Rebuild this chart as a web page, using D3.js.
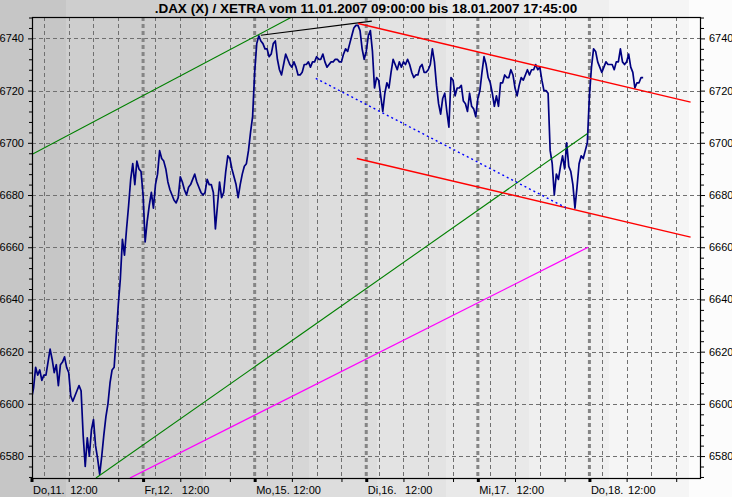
<!DOCTYPE html>
<html>
<head>
<meta charset="utf-8">
<script src="https://cdn.jsdelivr.net/npm/d3@7"></script>
<style>
    body { margin: 0; background: #fff; }
    svg { display: block; font-family: "Liberation Sans", Arial, sans-serif; }
</style>
</head>
<body>
<svg width="732" height="497"></svg>
<script>
const title = ".DAX (X) / XETRA vom 11.01.2007 09:00:00 bis 18.01.2007 17:45:00";
const dayLabels = ["Do,11.", "Fr,12.", "Mo,15.", "Di,16.", "Mi,17.", "Do,18."];
const noonLabel = "12:00";
const yTicks = [6580, 6600, 6620, 6640, 6660, 6680, 6700, 6720, 6740];

// DAX points every 10 minutes from 09:00, one array per trading day
const do11 = [6602, 6606, 6614, 6611, 6613, 6609, 6611, 6611, 6616, 6621,
    6617, 6612, 6615, 6607, 6615, 6616, 6618, 6614, 6612, 6603,
    6601, 6603, 6605, 6607, 6605, 6588, 6576, 6587, 6580, 6590,
    6594, 6584, 6579, 6573, 6580, 6588, 6595, 6600, 6608, 6613,
    6614, 6626, 6638, 6648, 6663, 6657, 6667, 6676, 6686, 6692,
    6684, 6693, 6690, 6689];
const fr12 = [6680, 6662, 6670, 6676, 6681, 6675, 6684, 6688, 6697, 6694,
    6693, 6690, 6685, 6682, 6680, 6678, 6677, 6679, 6687, 6685,
    6682, 6680, 6683, 6684, 6686, 6688, 6685, 6683, 6681, 6680,
    6681, 6686, 6684, 6684, 6681, 6667, 6676, 6685, 6679, 6681,
    6689, 6695, 6694, 6690, 6687, 6684, 6679, 6684, 6688, 6691,
    6692, 6697, 6704, 6710];
const mo15 = [6727, 6738, 6741, 6739, 6738, 6736, 6736, 6733, 6734, 6738,
    6739, 6732, 6728, 6726, 6730, 6734, 6732, 6730, 6729, 6731,
    6729, 6726, 6726, 6727, 6730, 6730, 6731, 6729, 6731, 6731,
    6733, 6732, 6732, 6734, 6731, 6729, 6730, 6731, 6731, 6732,
    6732, 6731, 6731, 6734, 6736, 6735, 6738, 6741, 6744, 6745,
    6745, 6743, 6736, 6732];
const di16 = [6735, 6741, 6743, 6735, 6721, 6725, 6724, 6718, 6712, 6719,
    6723, 6721, 6727, 6732, 6730, 6728, 6731, 6729, 6731, 6730,
    6732, 6730, 6727, 6725, 6726, 6726, 6729, 6730, 6727, 6727,
    6728, 6730, 6736, 6731, 6722, 6715, 6711, 6717, 6719, 6712,
    6706, 6725, 6724, 6718, 6721, 6721, 6722, 6716, 6715, 6712,
    6719, 6714, 6713, 6710];
const mi17 = [6717, 6720, 6727, 6733, 6730, 6725, 6723, 6719, 6714, 6718,
    6714, 6723, 6723, 6726, 6725, 6725, 6728, 6726, 6721, 6718,
    6722, 6725, 6724, 6726, 6728, 6726, 6728, 6728, 6730, 6728,
    6729, 6724, 6720, 6720, 6719, 6697, 6692, 6680, 6688, 6686,
    6691, 6695, 6690, 6700, 6691, 6689, 6684, 6675, 6683, 6692,
    6695, 6694, 6697, 6700];
const do18 = [6718, 6729, 6736, 6735, 6731, 6729, 6727, 6729, 6731, 6730,
    6730, 6730, 6728, 6731, 6731, 6736, 6731, 6730, 6731, 6734,
    6729, 6727, 6721, 6723, 6723, 6725, 6725];

// drawn trend lines: [trading hours since Do 09:00, index value]
const greenUpper = [[0, 6695.5], [21.0, 6748.2]];
const greenLower = [[5.2, 6571.6], [44.85, 6703.6]];
const magentaLine = [[7.94, 6571.6], [44.9, 6660.0]];
const blackLine = [[18.5, 6741.2], [27.45, 6746.6]];
const redUpper = [[26.34, 6745.7], [53.16, 6715.6]];
const redLower = [[26.24, 6694.0], [53.16, 6663.9]];
const blueDotted = [[22.93, 6724.7], [43.08, 6675.2]];

const width = 732;
const height = 497;
const plotL = 32, plotR = 700, plotT = 17, plotB = 478;
const hoursPerDay = 9;

// background shading steps across the whole picture
const bandEdges = [0, 66, 203, 309, 377, 446, 529, 609, 689, 732];
const bandColors = ["#c6c6c6", "#cecece", "#d6d6d6", "#dddddd", "#e3e3e3",
    "#e9e9e9", "#efefef", "#f5f5f5", "#fcfcfc"];

const svg = d3.select("svg").attr("viewBox", [0, 0, width, height]);

svg.append("g")
    .selectAll("rect")
    .data(bandColors)
    .join("rect")
    .attr("x", (d, i) => bandEdges[i])
    .attr("y", 0)
    .attr("width", (d, i) => bandEdges[i + 1] - bandEdges[i])
    .attr("height", height)
    .attr("fill", d => d);

const x = d3.scaleLinear()
    .domain([0, dayLabels.length * hoursPerDay])
    .range([31.5, 701]);
const y = d3.scaleLinear()
    .domain([6571.6, 6748.2])
    .range([plotB, plotT]);

svg.append("defs").append("clipPath")
    .attr("id", "plot")
    .append("rect")
    .attr("x", plotL).attr("y", plotT)
    .attr("width", plotR - plotL).attr("height", plotB - plotT);

// grid
const grid = svg.append("g").attr("stroke", "#707070").attr("fill", "none");

grid.selectAll("line.h")
    .data(yTicks)
    .join("line")
    .attr("class", "h")
    .attr("x1", plotL).attr("x2", plotR)
    .attr("y1", d => Math.round(y(d)) + 0.5)
    .attr("y2", d => Math.round(y(d)) + 0.5)
    .attr("stroke-dasharray", "4,3");

const thinHours = [];
const dayStarts = [];
dayLabels.forEach((d, i) => {
    [1, 3, 5, 7].forEach(h => thinHours.push(i * hoursPerDay + h));
    if (i > 0) dayStarts.push(i * hoursPerDay);
});

grid.selectAll("line.v")
    .data(thinHours)
    .join("line")
    .attr("class", "v")
    .attr("x1", d => Math.round(x(d)) + 0.5)
    .attr("x2", d => Math.round(x(d)) + 0.5)
    .attr("y1", plotT).attr("y2", plotB)
    .attr("stroke-dasharray", "4,3");

grid.selectAll("line.d")
    .data(dayStarts)
    .join("line")
    .attr("class", "d")
    .attr("x1", d => x(d)).attr("x2", d => x(d))
    .attr("y1", plotT).attr("y2", plotB)
    .attr("stroke-width", 3)
    .attr("stroke", "#858585")
    .attr("stroke-dasharray", "4,3");

// price series
const series = [];
[do11, fr12, mo15, di16, mi17, do18].forEach((vals, d) => {
    vals.forEach((v, i) => series.push({ t: d * hoursPerDay + i / 6, v: v }));
});

const plot = svg.append("g").attr("clip-path", "url(#plot)");

plot.append("path")
    .datum(series)
    .attr("fill", "none")
    .attr("stroke", "#000080")
    .attr("stroke-width", 1.7)
    .attr("stroke-linejoin", "round")
    .attr("d", d3.line().x(d => x(d.t)).y(d => y(d.v)));

const trend = d3.line().x(d => x(d[0])).y(d => y(d[1]));
const trendLines = [
    { pts: greenUpper, color: "#008000", w: 1.1 },
    { pts: greenLower, color: "#008000", w: 1.1 },
    { pts: magentaLine, color: "#ff00ff", w: 1.3 },
    { pts: blackLine, color: "#000000", w: 1.2 },
    { pts: redUpper, color: "#ff0000", w: 1.4 },
    { pts: redLower, color: "#ff0000", w: 1.4 },
    { pts: blueDotted, color: "#0000ff", w: 1.4, dash: "2,3" }
];

plot.selectAll("path.trend")
    .data(trendLines)
    .join("path")
    .attr("class", "trend")
    .attr("fill", "none")
    .attr("stroke", d => d.color)
    .attr("stroke-width", d => d.w)
    .attr("stroke-dasharray", d => d.dash || null)
    .attr("d", d => trend(d.pts));

// frame
svg.append("rect")
    .attr("x", plotL + 0.5).attr("y", plotT + 0.5)
    .attr("width", plotR - plotL).attr("height", plotB - plotT)
    .attr("fill", "none")
    .attr("stroke", "#000")
    .attr("stroke-width", 1.2);

// y axes with minor ticks every 4 points
const minorTicks = d3.range(6572, 6749, 4).filter(v => v % 20 !== 0);

function styleAxis(g) {
    g.select(".domain").remove();
    g.selectAll(".tick line").attr("stroke", "#000");
    g.selectAll(".tick text").attr("fill", "#000").attr("font-size", 11)
        .attr("font-family", "'Liberation Sans', Arial, sans-serif");
}

svg.append("g")
    .attr("transform", `translate(${plotL},0)`)
    .call(d3.axisLeft(y).tickValues(yTicks).tickSize(4).tickPadding(4).tickFormat(d3.format("d")))
    .call(styleAxis);
svg.append("g")
    .attr("transform", `translate(${plotL},0)`)
    .call(d3.axisLeft(y).tickValues(minorTicks).tickSize(3).tickFormat(""))
    .call(styleAxis);
svg.append("g")
    .attr("transform", `translate(${plotR + 1},0)`)
    .call(d3.axisRight(y).tickValues(yTicks).tickSize(4).tickPadding(4).tickFormat(d3.format("d")))
    .call(styleAxis);
svg.append("g")
    .attr("transform", `translate(${plotR + 1},0)`)
    .call(d3.axisRight(y).tickValues(minorTicks).tickSize(3).tickFormat(""))
    .call(styleAxis);

// time axis: day start, 12:00 and 16:00 ticks
const xTickVals = [];
dayLabels.forEach((d, i) => xTickVals.push(i * hoursPerDay, i * hoursPerDay + 3, i * hoursPerDay + 7));

const xAxisG = svg.append("g")
    .attr("transform", `translate(0,${plotB})`)
    .call(d3.axisBottom(x).tickValues(xTickVals).tickSize(4).tickPadding(4)
        .tickFormat(t => {
            const d = Math.floor(t / hoursPerDay + 1e-6);
            const h = t - d * hoursPerDay;
            if (h === 0) return dayLabels[d];
            if (h === 3) return noonLabel;
            return "";
        }))
    .call(styleAxis);

xAxisG.selectAll(".tick text").attr("text-anchor", "start").attr("dx", 1);
xAxisG.selectAll(".tick line").attr("stroke-width", t => t % hoursPerDay === 0 ? 3 : 1);

svg.append("text")
    .attr("x", 366)
    .attr("y", 13)
    .attr("text-anchor", "middle")
    .attr("font-size", 13.5)
    .attr("font-weight", "bold")
    .attr("fill", "#000")
    .text(title);
</script>
</body>
</html>
